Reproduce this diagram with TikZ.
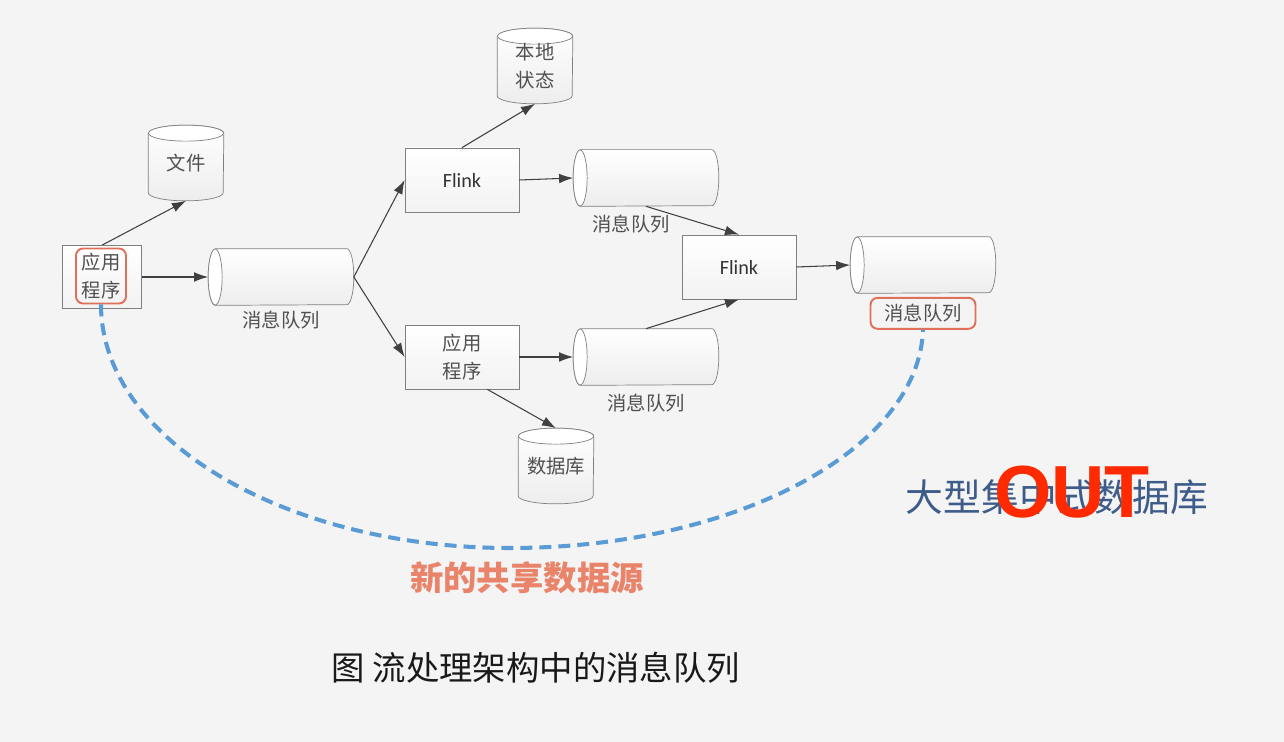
\documentclass[tikz,border=0pt]{standalone}
\usepackage{fontspec}
\setmainfont{Noto Sans CJK SC}
\newfontfamily\flinkfont{Carlito}
\newfontfamily\outfont{Liberation Sans}
\usetikzlibrary{positioning,calc,arrows.meta}

\definecolor{bgcol}{HTML}{F4F4F4}
\definecolor{boxgray}{HTML}{7F7F7F}
\definecolor{txtgray}{HTML}{505050}
\definecolor{markred}{HTML}{E0705A}
\definecolor{arcblue}{HTML}{5B9BD5}
\definecolor{srcorange}{HTML}{E9846A}
\definecolor{dbblue}{HTML}{3E5C8A}
\definecolor{outred}{HTML}{FF2A00}

\pgfdeclarelayer{back}
\pgfsetlayers{back,main}

\tikzset{
  box/.style={draw=boxgray, top color=white, bottom color=black!5, minimum width=2.28cm,
    minimum height=1.28cm, inner sep=0pt, text=txtgray, align=center,
    font=\fontsize{11}{16}\selectfont},
  flinkbox/.style={box, text=black!80, font=\flinkfont\fontsize{11.5}{14}\selectfont},
  hstore/.style={minimum width=2.9cm, minimum height=1.12cm, inner sep=0pt},
  vstore/.style={minimum width=1.5cm, minimum height=1.5cm, inner sep=0pt, text=txtgray,
    align=center, font=\fontsize{11}{16}\selectfont},
  qlabel/.style={text=txtgray, inner sep=1pt, font=\fontsize{11}{13}\selectfont},
  redmark/.style={draw=markred, line width=1.1pt, rounded corners=4pt, inner sep=0pt},
  cylline/.style={draw=boxgray, top color=white, bottom color=black!7},
  capline/.style={draw=boxgray, fill=white},
  flow/.style={->, draw=black!75, line width=0.6pt},
  srcarc/.style={draw=arcblue, line width=2.3pt, dash pattern=on 6.8pt off 4pt},
}

% queue lying on its side, open end on the left
\newcommand\hcyl[1]{%
  \draw[cylline] ($(#1.north west)+(7,0)$) -- ($(#1.north east)+(-7,0)$)
    arc[start angle=90, end angle=-90, x radius=0.14cm, y radius=0.56cm]
    -- ($(#1.south west)+(7,0)$)
    arc[start angle=270, end angle=90, x radius=0.14cm, y radius=0.56cm] -- cycle;
  \draw[capline] ($(#1.west)+(7,0)$) ellipse[x radius=0.14cm, y radius=0.56cm];
}
% store standing upright
\newcommand\vcyl[1]{%
  \draw[cylline] ($(#1.north west)+(0,-8)$) -- ($(#1.south west)+(0,8)$)
    arc[start angle=180, end angle=360, x radius=0.75cm, y radius=0.16cm]
    -- ($(#1.north east)+(0,-8)$)
    arc[start angle=0, end angle=180, x radius=0.75cm, y radius=0.16cm] -- cycle;
  \draw[capline] ($(#1.north)+(0,-8)$) ellipse[x radius=0.75cm, y radius=0.16cm];
}

\begin{document}
\begin{tikzpicture}[x=0.02cm, y=0.02cm, >={Latex[length=8pt,width=5.5pt]}]
\useasboundingbox (0,0) rectangle (1284,-742);

% source side
\node[box, minimum width=1.58cm, minimum height=1.26cm] (app) at (102,-277) {};
\node[redmark, minimum width=1.0cm, minimum height=1.1cm, text=txtgray, align=center,
  font=\fontsize{11}{16}\selectfont] (appsrc) at (101,-276) {应用\\程序};
\node[vstore] (file) at (186,-163) {文件};
\node[hstore] (q1) at (281,-277) {};
\node[qlabel, below=2pt of q1] (q1lab) {消息队列};

% upper branch
\node[flinkbox] (flink1) at (462,-180) {Flink};
\node[vstore] (state) at (535,-66) {本地\\状态};
\node[hstore] (q2) at (646,-178) {};
\node[qlabel, below=4pt of q2, xshift=-0.3cm] (q2lab) {消息队列};

% lower branch
\node[box] (app2) at (462,-357) {应用\\程序};
\node[hstore] (q3) at (646,-357) {};
\node[qlabel, below=4pt of q3] (q3lab) {消息队列};
\node[vstore] (db) at (556,-466) {数据库};

% join
\node[flinkbox] (flink2) at (739,-267) {Flink};
\node[hstore] (q4) at (923,-265) {};
\node[qlabel, redmark, minimum width=2.1cm, minimum height=0.62cm, below=2pt of q4] (q4lab) {消息队列};

\begin{pgfonlayer}{back}
  \fill[bgcol] (0,0) rectangle (1284,-742);
  \foreach \n in {file,state,db} {\vcyl{\n}}
  \foreach \n in {q1,q2,q3,q4} {\hcyl{\n}}
\end{pgfonlayer}

\draw[flow] (app.north) -- (file.south);
\draw[flow] (app.east) -- (q1.west);
\draw[flow] (q1.east) -- (flink1.west);
\draw[flow] (q1.east) -- (app2.west);
\draw[flow] (flink1.north) -- (state.south);
\draw[flow] (flink1.east) -- (q2.west);
\draw[flow] (app2.east) -- (q3.west);
\draw[flow] (app2.-52) -- (db.north);
\draw[flow] (q2.south) -- (flink2.north);
\draw[flow] (q3.north) -- (flink2.south);
\draw[flow] (flink2.east) -- (q4.west);

% the queue as new shared source
\coordinate (arcbot) at (510,-548);
\draw[srcarc] (appsrc.south) .. controls (101,-439) and (284,-548) .. (arcbot)
  .. controls (736,-548) and (919,-449) .. (q4lab.south);
\node[text=srcorange, font=\bfseries\fontsize{19}{22}\selectfont] (newsrc) at (527,-578) {新的共享数据源};

\node[text=dbblue, font=\fontsize{21.5}{24}\selectfont] (central) at (1057,-497) {大型集中式数据库};
\node[text=outred, inner sep=0pt, font=\outfont\bfseries\fontsize{42}{46}\selectfont] (out) at (1072,-492) {OUT};

\node[text=black!90, font=\fontsize{19}{22}\selectfont] (caption) at (536,-668) {图 流处理架构中的消息队列};
\end{tikzpicture}
\end{document}
